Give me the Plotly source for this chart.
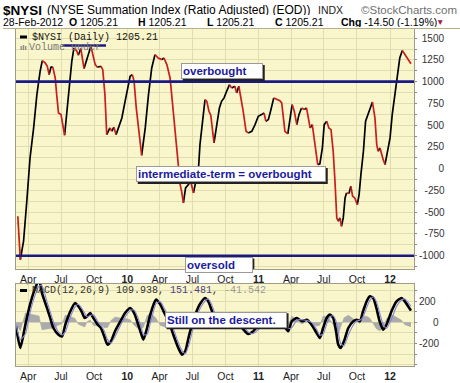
import plotly.graph_objects as go

# ---------------- data ----------------
nysi_dates = [
    '2009-03-03', '2009-03-10', '2009-03-19', '2009-03-28', '2009-04-06', '2009-04-16', '2009-04-25',
    '2009-05-04', '2009-05-10', '2009-05-18', '2009-05-24', '2009-05-29', '2009-06-03', '2009-06-08',
    '2009-06-15', '2009-06-19', '2009-06-24', '2009-07-01', '2009-07-05', '2009-07-11', '2009-07-17',
    '2009-07-25', '2009-07-31', '2009-08-06', '2009-08-14', '2009-08-18', '2009-08-25', '2009-09-03',
    '2009-09-15', '2009-09-22', '2009-10-04', '2009-10-10', '2009-10-20', '2009-10-25', '2009-10-31',
    '2009-11-05', '2009-11-14', '2009-11-19', '2009-11-25', '2009-12-01', '2009-12-07', '2009-12-17',
    '2009-12-26', '2010-01-02', '2010-01-09', '2010-01-15', '2010-01-20', '2010-01-26', '2010-02-01',
    '2010-02-10', '2010-02-20', '2010-03-01', '2010-03-10', '2010-03-19', '2010-03-28', '2010-04-07',
    '2010-04-13', '2010-04-21', '2010-04-30', '2010-05-09', '2010-05-17', '2010-05-23', '2010-05-28',
    '2010-06-01', '2010-06-06', '2010-06-12', '2010-06-20', '2010-06-26', '2010-07-04', '2010-07-08',
    '2010-07-18', '2010-07-22', '2010-07-30', '2010-08-05', '2010-08-10', '2010-08-16', '2010-08-21',
    '2010-08-30', '2010-09-06', '2010-09-14', '2010-09-20', '2010-09-27', '2010-10-04', '2010-10-12',
    '2010-10-18', '2010-10-27', '2010-11-01', '2010-11-07', '2010-11-13', '2010-11-19', '2010-11-27',
    '2010-12-03', '2010-12-13', '2010-12-22', '2010-12-31', '2011-01-09', '2011-01-16', '2011-01-21',
    '2011-01-28', '2011-02-03', '2011-02-12', '2011-02-20', '2011-03-01', '2011-03-06', '2011-03-15',
    '2011-03-23', '2011-03-29', '2011-04-04', '2011-04-10', '2011-04-17', '2011-04-23', '2011-04-30',
    '2011-05-08', '2011-05-14', '2011-05-19', '2011-05-24', '2011-05-30', '2011-06-06', '2011-06-14',
    '2011-06-20', '2011-06-27', '2011-07-02', '2011-07-09', '2011-07-15', '2011-07-21', '2011-07-27',
    '2011-08-01', '2011-08-06', '2011-08-10', '2011-08-15', '2011-08-19', '2011-08-24', '2011-08-29',
    '2011-09-02', '2011-09-09', '2011-09-14', '2011-09-19', '2011-09-25', '2011-10-02', '2011-10-07',
    '2011-10-12', '2011-10-19', '2011-10-25', '2011-11-02', '2011-11-08', '2011-11-13', '2011-11-20',
    '2011-11-25', '2011-11-29', '2011-12-04', '2011-12-08', '2011-12-13', '2011-12-18', '2011-12-24',
    '2012-01-01', '2012-01-07', '2012-01-14', '2012-01-22', '2012-01-28', '2012-02-04', '2012-02-11',
    '2012-02-20', '2012-02-28',
]
nysi_values = [
    -547, -1045, -834, -375, 123, 468, 851,
    1119, 1242, 1215, 1177, 1081, 1165, 1170,
    1042, 851, 640, 621, 506, 384, 621,
    966, 1234, 1387, 1349, 1303, 1380, 1150,
    1311, 1406, 1196, 1165, 1177, 1138, 851,
    391, 468, 430, 476, 391, 468, 583,
    774, 928, 1062, 1081, 1004, 698, 468,
    154, 468, 851, 1157, 1311, 1272, 1253,
    1272, 1196, 1042, 660, 277, 8, -183,
    -260, -394, -221, -183, -145, -279, -183,
    8, 277, 621, 794, 774, 660, 614,
    296, 506, 698, 774, 813, 889, 966,
    928, 947, 870, 947, 813, 660, 430,
    411, 430, 506, 602, 621, 640, 545,
    564, 660, 813, 794, 780, 755, 430,
    399, 583, 736, 660, 506, 621, 698,
    679, 698, 583, 468, 506, 277, 47,
    55, 238, 506, 545, 468, 449, 200,
    -145, -566, -604, -566, -662, -566, -336,
    -279, -285, -202, -317, -336, -413, -298,
    -68, 200, 545, 640, 717, 767, 583,
    277, 200, 238, 162, 104, 47, 162,
    353, 621, 851, 1081, 1272, 1357, 1311,
    1250, 1205.21,
]

macd_dates = [
    '2009-02-26', '2009-03-10', '2009-03-24', '2009-04-06', '2009-04-17', '2009-05-01', '2009-05-09',
    '2009-05-23', '2009-06-01', '2009-06-10', '2009-06-24', '2009-07-04', '2009-07-13', '2009-07-27',
    '2009-08-09', '2009-08-18', '2009-08-27', '2009-09-05', '2009-09-12', '2009-09-20', '2009-09-29',
    '2009-10-11', '2009-10-20', '2009-10-29', '2009-11-07', '2009-11-17', '2009-11-28', '2009-12-13',
    '2009-12-26', '2010-01-09', '2010-01-20', '2010-01-30', '2010-02-08', '2010-02-15', '2010-02-25',
    '2010-03-06', '2010-03-15', '2010-03-22', '2010-04-03', '2010-04-14', '2010-04-26', '2010-05-09',
    '2010-05-23', '2010-06-02', '2010-06-11', '2010-06-20', '2010-06-30', '2010-07-09', '2010-07-21',
    '2010-08-05', '2010-08-14', '2010-08-23', '2010-09-01', '2010-09-12', '2010-09-28', '2010-10-15',
    '2010-11-02', '2010-11-24', '2010-12-03', '2010-12-17', '2011-01-12', '2011-02-12', '2011-03-08',
    '2011-03-24', '2011-04-03', '2011-04-17', '2011-05-01', '2011-05-15', '2011-05-28', '2011-06-11',
    '2011-06-20', '2011-06-29', '2011-07-09', '2011-07-18', '2011-07-27', '2011-08-04', '2011-08-10',
    '2011-08-17', '2011-08-26', '2011-09-07', '2011-09-21', '2011-09-30', '2011-10-09', '2011-10-18',
    '2011-10-28', '2011-11-06', '2011-11-15', '2011-11-24', '2011-12-03', '2011-12-13', '2011-12-22',
    '2012-01-05', '2012-01-19', '2012-02-02', '2012-02-11', '2012-02-28',
]
macd_values = [
    -37, -241, -22, 166, 291, 400, 276,
    135, 41, -53, -116, -131, -22, 104,
    182, 151, 104, 41, 57, 88, 41,
    -22, -53, -131, -209, -178, -84, 10,
    88, 135, 88, -6, -100, -162, -53,
    72, 166, 213, 166, 88, 10, -116,
    -241, -303, -272, -147, -22, 72, 166,
    229, 197, 119, 41, 10, 30, 60,
    0, -84, -109, -84, 20, 60, -10,
    -84, 10, 41, 10, 25, -22, -100,
    -147, -53, 41, 72, 41, -84, -209,
    -241, -178, -53, 10, 25, 10, 104,
    197, 244, 229, 135, 10, -69, -22,
    104, 197, 229, 197, 109.938,
]
signal_values = [
    -20, -160, -110, 90, 225, 340, 345,
    195, 100, 5, -90, -118, -90, 50,
    145, 170, 135, 85, 50, 65, 70,
    10, -30, -80, -160, -195, -135, -30,
    50, 110, 115, 50, -40, -115, -115,
    -10, 105, 175, 195, 130, 50, -60,
    -190, -265, -295, -225, -95, 10, 120,
    200, 220, 170, 90, 30, 20, 45,
    45, -55, -90, -105, -30, 45, 15,
    -55, -50, 20, 25, 18, 0, -65,
    -120, -110, -15, 50, 62, 10, -90,
    -200, -220, -120, -25, 12, 20, 50,
    140, 205, 240, 195, 90, -20, -55,
    30, 150, 210, 220, 151.481,
]

tick_dates = ['2009-04-01', '2009-07-01', '2009-10-01', '2010-01-01', '2010-04-01', '2010-07-01',
              '2010-10-01', '2011-01-01', '2011-04-01', '2011-07-01', '2011-10-01', '2012-01-01']
tick_labels = ['Apr', 'Jul', 'Oct', '<b>10</b>', 'Apr', 'Jul', 'Oct', '<b>11</b>', 'Apr', 'Jul', 'Oct', '<b>12</b>']

nysi_ticks = list(range(-1125, 1501, 125))
nysi_labelled = list(range(-1000, 1501, 250))
macd_ticks = list(range(-400, 301, 100))
macd_labelled = [-200, 0, 200]

# ---------------- styling helpers ----------------
W, H = 460, 383
L, R, T, B = 16, 46, 29, 17
PW, PH = W - L - R, H - T - B
def px(p):
    return (p - L) / PW
def py(p):
    return (H - B - p) / PH

NB = '\u00a0'
def pad_right(s, widest):
    def w(t):
        return 0.556 * sum(c.isdigit() for c in t) + 0.333 * t.count('-')
    n = int(round((w(widest) - w(s)) / 0.278))
    return NB * n + s

SANS = 'Liberation Sans, Arial, sans-serif'
MONO = 'Liberation Mono, DejaVu Sans Mono, monospace'
BG = '#FAF6CB'
GRID = '#E2DDB0'
BORDER = '#A09C88'
NAVY = '#1A1A86'
RED = '#C81E1E'

fig = go.Figure()

# histogram (MACD - signal)
hist = [m - s for m, s in zip(macd_values, signal_values)]
fig.add_trace(go.Scatter(x=macd_dates, y=hist, mode='lines', fill='tozeroy',
                         line=dict(width=0.5, color='#A6A6A6'), fillcolor='#ABABAB',
                         xaxis='x2', yaxis='y2', hoverinfo='skip'))
fig.add_trace(go.Scatter(x=macd_dates, y=macd_values, mode='lines',
                         line=dict(width=2.6, color='#000000', shape='spline', smoothing=0.6),
                         xaxis='x2', yaxis='y2'))
fig.add_trace(go.Scatter(x=macd_dates, y=signal_values, mode='lines',
                         line=dict(width=1.1, color='#8585DA', shape='spline', smoothing=0.6),
                         xaxis='x2', yaxis='y2'))

# NYSI line, black when rising, red when falling
runs = []
cur = None
for i in range(1, len(nysi_values)):
    up = nysi_values[i] >= nysi_values[i - 1]
    if up != cur:
        runs.append([up, [i - 1, i]])
        cur = up
    else:
        runs[-1][1].append(i)
for want, color in ((True, '#000000'), (False, RED)):
    xs, ys = [], []
    for up, idx in runs:
        if up == want:
            xs += [nysi_dates[k] for k in idx] + [None]
            ys += [nysi_values[k] for k in idx] + [None]
    fig.add_trace(go.Scatter(x=xs, y=ys, mode='lines', connectgaps=False,
                             line=dict(width=1.7, color=color), xaxis='x', yaxis='y'))

xrange = ['2009-02-26', '2012-03-07 12:00']
xcommon = dict(type='date', range=xrange, tickvals=tick_dates, ticktext=tick_labels,
               showgrid=True, gridcolor=GRID, gridwidth=1, showline=True, mirror=True,
               linecolor=BORDER, linewidth=1, ticks='', zeroline=False, automargin=False,
               tickfont=dict(family=SANS, size=10.5, color='#222'))
fig.update_layout(
    width=W, height=H, margin=dict(l=L, r=R, t=T, b=B, autoexpand=False),
    paper_bgcolor='white', plot_bgcolor=BG, showlegend=False,
    xaxis=dict(domain=[0, 1], anchor='y', **xcommon),
    xaxis2=dict(domain=[0, 1], anchor='y2', matches='x', **xcommon),
    yaxis=dict(domain=[py(269), 1], anchor='x', side='right', range=[-1153, 1605],
               tickvals=nysi_ticks,
               ticktext=[pad_right(str(v), '-1000') if v in nysi_labelled else '' for v in nysi_ticks],
               showgrid=True, gridcolor=GRID, zeroline=False, showline=True, mirror=True,
               linecolor=BORDER, ticks='outside', ticklen=2, tickcolor='#888', automargin=False,
               tickfont=dict(family=SANS, size=10, color='#333')),
    yaxis2=dict(domain=[0, py(284)], anchor='x2', side='right', range=[-410, 360],
                tickvals=macd_ticks,
                ticktext=[('200' if v == 200 else '-200' if v == -200 else NB * 5 + '0') if v in macd_labelled else ''
                          for v in macd_ticks],
                showgrid=True, gridcolor=GRID, zeroline=False, showline=True, mirror=True,
                linecolor=BORDER, ticks='outside', ticklen=2, tickcolor='#888', automargin=False,
                tickfont=dict(family=SANS, size=10, color='#333')),
)

shapes = []
# rule under the header
shapes.append(dict(type='line', xref='paper', yref='paper', x0=px(3), x1=px(460), y0=py(28.5), y1=py(28.5),
                   line=dict(color='#B5B08A', width=1)))
for lvl in (1000, -1000):
    shapes.append(dict(type='line', xref='x domain', yref='y', x0=0, x1=1, y0=lvl, y1=lvl,
                       line=dict(color=NAVY, width=2.6)))
shapes.append(dict(type='line', xref='x', yref='y', x0='2009-07-05', x1='2009-11-03', y0=1416, y1=1416,
                   line=dict(color=NAVY, width=2.6)))
# legend dashes
for yy in (37, 290.5):
    shapes.append(dict(type='line', xref='paper', yref='paper', x0=px(20), x1=px(27), y0=py(yy), y1=py(yy),
                       line=dict(color='#000', width=3)))

ann = []
def txt(text, xp, yp, size, color='#000', family=SANS, h=None):
    a = dict(text=text, x=px(xp), y=py(yp), xref='paper', yref='paper', xanchor='left',
             yanchor='middle', showarrow=False, font=dict(family=family, size=size, color=color),
             borderpad=0)
    if h:
        a['height'] = h
    ann.append(a)

# header
txt('<b>$NYSI</b>', 2, 9.5, 13.5, h=12)
txt('(NYSE Summation Index (Ratio Adjusted) (EOD))', 46, 10, 12, h=11)
txt('INDX', 317, 10, 10.5, '#222', h=11)
txt('\u00a9StockCharts.com', 360, 10, 11.5, '#707070', h=11)
txt('28-Feb-2012', 2, 22.5, 10.5, h=10)
txt('<b>O</b> 1205.21', 68, 22.5, 10.5, h=10)
txt('<b>H</b> 1205.21', 137, 22.5, 10.5, h=10)
txt('<b>L</b> 1205.21', 206, 22.5, 10.5, h=10)
txt('<b>C</b> 1205.21', 274, 22.5, 10.5, h=10)
txt('<b>Chg</b> -14.50 (-1.19%)', 340, 22.5, 10.5, h=10)
txt('\u25bc', 435, 22.5, 8.5, '#A0204A', h=10)
# panel legends
txt('$NYSI (Daily) 1205.21', 31, 37, 10, '#111', MONO)
txt('<b>\u0131l\u0131</b>', 19, 47.5, 8, '#777')
txt('Volume under', 28, 47.5, 10, '#777', MONO)
txt("MACD(12,26,9) 109.938, <span style='color:#4A3C8A'>151.481</span>, "
    "<span style='color:#9A9A9A'>-41.542</span>", 31, 290.5, 10, '#333', MONO)

def box(text, x, y, w, xref, yref):
    # drop shadow drawn as a pixel-sized rectangle anchored to the label position
    shapes.append(dict(type='rect', xref=xref, yref=yref, xsizemode='pixel', ysizemode='pixel',
                       xanchor=x, yanchor=y, x0=1.5, x1=w + 5.5, y0=-9.5, y1=6.5,
                       fillcolor='#222', line=dict(width=0), layer='above'))
    ann.append(dict(text='<b>' + text + '</b>', x=x, y=y, xref=xref, yref=yref, xanchor='left',
                    yanchor='middle', showarrow=False, width=w, height=12, align='left',
                    borderwidth=1, borderpad=1, bgcolor='white', bordercolor='#9A9A9A',
                    font=dict(family=SANS, size=11.5, color='#1B1B9E')))

box('overbought', '2010-05-31', 1117, 78, 'x', 'y')
box('intermediate-term = overbought', '2010-01-26', -66, 186, 'x', 'y')
box('oversold', '2010-06-10', -1107, 64, 'x', 'y')
box('Still on the descent.', '2010-04-16', 25, 118, 'x2', 'y2')

fig.update_layout(annotations=ann, shapes=shapes)
fig.write_html('out.html')
